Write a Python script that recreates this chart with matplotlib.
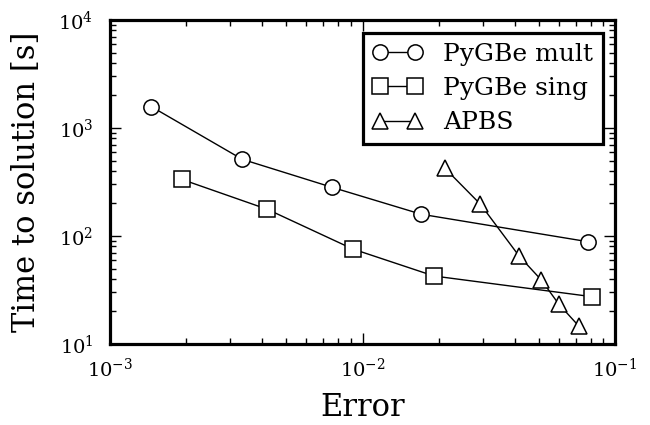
import matplotlib
matplotlib.use("Agg")
import matplotlib.pyplot as plt

plt.rcParams['font.family'] = ['DejaVu Serif']
plt.rcParams['mathtext.fontset'] = 'dejavuserif'
plt.rcParams['axes.unicode_minus'] = False

mult_err = [1.46e-3, 3.34e-3, 7.59e-3, 0.0171, 0.0782]
mult_time = [1574, 513, 282, 159, 88.5]
sing_err = [1.92e-3, 4.19e-3, 9.15e-3, 0.0192, 0.0813]
sing_time = [335, 177, 75.8, 42.6, 27.4]
apbs_err = [0.0212, 0.0293, 0.0417, 0.0511, 0.0598, 0.0718]
apbs_time = [424, 197, 65.3, 39.1, 23.5, 14.7]

fig = plt.figure(figsize=(6.5, 4.25), dpi=100)
ax = fig.add_axes([110/650, 81/425, 505/650, 324/425])

kw = dict(color='k', lw=1.0, mfc='w', mec='k', mew=1.1)
ax.loglog(mult_err, mult_time, marker='o', ms=11, label='PyGBe mult', **kw)
ax.loglog(sing_err, sing_time, marker='s', ms=11, label='PyGBe sing', **kw)
ax.loglog(apbs_err, apbs_time, marker='^', ms=12, label='APBS', **kw)

ax.set_xlim(1e-3, 1e-1)
ax.set_ylim(10, 1e4)
ax.set_xlabel('Error', fontsize=22, labelpad=8)
ax.set_ylabel('Time to solution [s]', fontsize=22, labelpad=12)

for s in ax.spines.values():
    s.set_linewidth(2.3)
ax.tick_params(which='both', direction='in', top=True, right=True, labelsize=14)
ax.tick_params(which='major', length=8, width=1)
ax.tick_params(which='minor', length=4, width=1)
ax.tick_params(axis='x', which='major', pad=10)
ax.tick_params(axis='y', which='major', pad=12)

leg = ax.legend(loc='upper right', bbox_to_anchor=(0.976, 0.96), borderaxespad=0,
                fontsize=18, numpoints=2, fancybox=False, framealpha=1,
                edgecolor='k', handlelength=2.0, handletextpad=0.8,
                labelspacing=0.45, borderpad=0.4)
leg.get_frame().set_linewidth(2.3)

fig.savefig('out.png', dpi=100)
